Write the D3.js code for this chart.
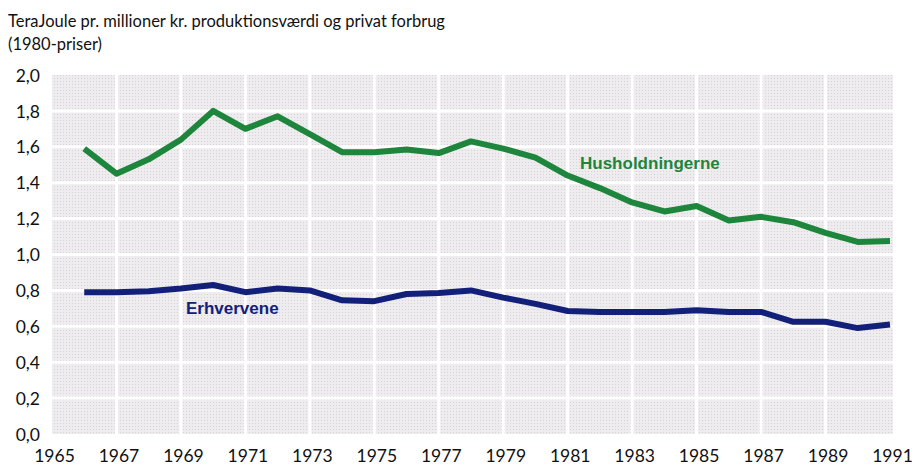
<!DOCTYPE html>
<html><head><meta charset="utf-8">
<script src="https://cdn.jsdelivr.net/npm/d3@7"></script>
<style>body{margin:0;background:#fff;} svg{display:block;}</style>
</head><body>
<svg id="chart" width="916" height="467"></svg>
<script>
const years = d3.range(1966, 1992);
const husholdningerne = [1.59,1.45,1.53,1.64,1.80,1.70,1.77,1.67,1.57,1.57,1.585,1.565,1.63,1.59,1.54,1.44,1.37,1.29,1.24,1.27,1.19,1.21,1.18,1.12,1.07,1.075];
const erhvervene = [0.79,0.79,0.795,0.81,0.83,0.79,0.81,0.80,0.745,0.74,0.78,0.785,0.80,0.76,0.725,0.685,0.68,0.68,0.68,0.69,0.68,0.68,0.625,0.625,0.59,0.61];
const xTicks = d3.range(1965, 1992, 2);
const yTicks = [0,0.2,0.4,0.6,0.8,1.0,1.2,1.4,1.6,1.8,2.0];
const titleLines = ["TeraJoule pr. millioner kr. produktionsværdi og privat forbrug","(1980-priser)"];
const seriesNames = ["Husholdningerne","Erhvervene"];

const svg = d3.select("#chart");
const x = d3.scaleLinear().domain([1965,1991]).range([52,890]);
const y = d3.scaleLinear().domain([0,2]).range([434,75]);
const fmt = d3.formatLocale({decimal:",",thousands:".",grouping:[3],currency:["",""]}).format(".1f");

// texture pattern
const defs = svg.append("defs");
const pat = defs.append("pattern").attr("id","tex").attr("width",3).attr("height",3).attr("patternUnits","userSpaceOnUse");
pat.append("rect").attr("width",3).attr("height",3).attr("fill","#eeecee");
pat.append("rect").attr("width",1).attr("height",1).attr("fill","#d6d3d5");

svg.append("rect").attr("x",x(1965)).attr("y",y(2)).attr("width",x(1991)+3-x(1965)).attr("height",y(0)-y(2)).attr("fill","url(#tex)");

// gridlines
svg.append("g").selectAll("line").data(yTicks.slice(1,-1)).join("line")
  .attr("x1",x(1965)).attr("x2",x(1991)+3).attr("y1",d=>y(d)).attr("y2",d=>y(d))
  .attr("stroke","#fff").attr("stroke-width",3);
svg.append("g").selectAll("line").data(xTicks.slice(1,-1)).join("line")
  .attr("x1",d=>x(d)).attr("x2",d=>x(d)).attr("y1",y(2)).attr("y2",y(0))
  .attr("stroke","#fff").attr("stroke-width",3);

// title
svg.append("g").selectAll("text").data(titleLines).join("text")
  .attr("x",8).attr("y",(d,i)=>27+i*23)
  .attr("font-family","Lato, 'Open Sans', sans-serif").attr("font-size",16.5).attr("fill","#111")
  .text(d=>d);

// y axis
const yAxis = d3.axisLeft(y).tickValues(yTicks).tickFormat(fmt).tickSize(0).tickPadding(0);
const ya = svg.append("g").attr("transform","translate(40,0)").call(yAxis);
ya.select(".domain").remove();
ya.selectAll("text").attr("font-family","Lato, 'Open Sans', sans-serif").attr("font-size",17.5).attr("fill","#111").attr("dy","0.35em").attr("text-anchor","end");

// x axis
const xAxis = d3.axisBottom(x).tickValues(xTicks).tickFormat(d3.format("d")).tickSize(0).tickPadding(0);
const xa = svg.append("g").attr("transform","translate(2,449)").call(xAxis);
xa.select(".domain").remove();
xa.selectAll("text").attr("font-family","Lato, 'Open Sans', sans-serif").attr("font-size",17.5).attr("fill","#111").attr("dy","0.75em");

// lines
const line = d3.line().x((d,i)=>x(years[i])).y(d=>y(d));
svg.append("path").datum(husholdningerne).attr("d",line).attr("fill","none")
  .attr("stroke","#1d853c").attr("stroke-width",6).attr("stroke-linejoin","round");
svg.append("path").datum(erhvervene).attr("d",line).attr("fill","none")
  .attr("stroke","#13207a").attr("stroke-width",6).attr("stroke-linejoin","round");

// labels
svg.append("text").attr("x",580).attr("y",169).text(seriesNames[0])
  .attr("font-family","'Liberation Sans Narrow', 'Liberation Sans', sans-serif").attr("font-weight","bold")
  .attr("font-size",17).attr("fill","#1d853c");
svg.append("text").attr("x",186).attr("y",314).text(seriesNames[1])
  .attr("font-family","'Liberation Sans Narrow', 'Liberation Sans', sans-serif").attr("font-weight","bold")
  .attr("font-size",17).attr("fill","#13207a");
</script>
</body></html>
